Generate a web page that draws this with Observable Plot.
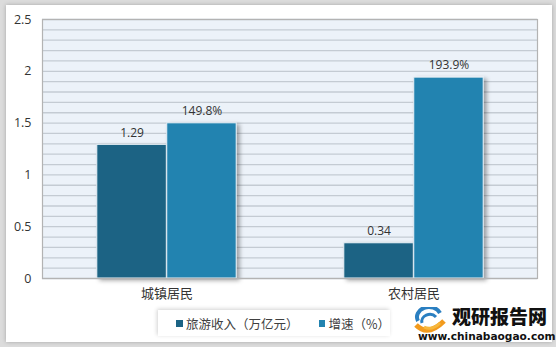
<!DOCTYPE html>
<html><head><meta charset="utf-8">
<script src="https://cdn.jsdelivr.net/npm/d3@7"></script>
<script src="https://cdn.jsdelivr.net/npm/@observablehq/plot@0.6"></script>
<style>
body{margin:0;width:556px;height:347px;background:#dcdcdc;position:relative;overflow:hidden;font-family:"Open Sans","Noto Sans CJK SC",sans-serif;}
#card{position:absolute;left:6px;top:5px;width:546px;height:337px;background:#fff;box-shadow:0 0 4px rgba(0,0,0,0.25);}
#chart{position:absolute;left:0;top:0;}
#legend{position:absolute;left:158px;top:310px;width:232px;height:26px;background:#fff;box-shadow:-1px -1px 4px rgba(0,0,0,0.18);font-size:12.5px;color:#404040;font-family:"Noto Sans CJK SC",sans-serif;display:flex;align-items:center;white-space:nowrap;}
.sw{display:inline-block;width:7px;height:7px;margin-right:3px;}
#logo{position:absolute;left:414px;top:303px;width:142px;height:42px;white-space:nowrap;}
#logo .t{position:absolute;left:38px;top:1px;font-family:"Noto Sans CJK SC",sans-serif;font-weight:900;font-size:19px;letter-spacing:0px;color:#111;line-height:24px;white-space:nowrap;}
#logo .u{position:absolute;left:4px;top:27px;font-family:"DejaVu Sans",sans-serif;font-weight:bold;font-size:10.6px;color:#111;line-height:12px;white-space:nowrap;}
</style></head>
<body>
<div id="card"></div>
<div id="chart"></div>
<div id="legend">
  <span style="margin-left:18px" class="sw" id="sw1"></span><span>旅游收入（万亿元）</span>
  <span style="margin-left:20px" class="sw" id="sw2"></span><span>增速（%）</span>
</div>
<div id="logo">
  <svg width="36" height="28" style="position:absolute;left:0;top:4px">
    <path d="M4,14 A12,10 0 0 1 26,6" stroke="#2a7fc1" stroke-width="4" fill="none"/>
    <path d="M8,16 A8,7 0 0 1 22,10" stroke="#2a7fc1" stroke-width="3" fill="none"/>
    <path d="M2,18 Q14,30 30,14" stroke="#f29a1d" stroke-width="5" fill="none"/>
    <path d="M10,20 Q18,24 26,16" stroke="#f6b73c" stroke-width="3" fill="none"/>
  </svg>
  <div class="t">观研报告网</div>
  <div class="u">www.chinabaogao.com</div>
</div>
<script>
const categories = ["城镇居民", "农村居民"];
const series = ["旅游收入（万亿元）", "增速（%）"];
const revenue = [1.29, 0.34];        // 万亿元
const growth = [149.8, 193.9];       // %
const yTickValues = [0, 0.5, 1, 1.5, 2, 2.5];
const colors = ["#1b6384", "#2283b0"];

document.getElementById("sw1").style.background = colors[0];
document.getElementById("sw2").style.background = colors[1];

const revData = categories.map((c, i) => ({cat: c, value: revenue[i], label: String(revenue[i])}));
const growthData = categories.map((c, i) => ({cat: c, value: growth[i] / 100, label: growth[i].toFixed(1) + "%"}));
const grid = d3.range(0, 26).map(i => i / 10);

const W = 556, ML = 42, MR = 19;
const B = (W - ML - MR) / categories.length;   // band width
const outer = B * 0.2174;
const bw = B * 0.2828;
const shift = B / 2 - outer - bw / 2;

const font = "'Open Sans','Noto Sans CJK SC',sans-serif";
const plot = Plot.plot({
  width: W, height: 308,
  marginLeft: ML, marginRight: MR, marginTop: 19, marginBottom: 30,
  style: {fontFamily: font, fontSize: "12px", color: "#333", background: "transparent"},
  x: {type: "band", domain: categories, padding: 0, label: null},
  y: {domain: [0, 2.5], label: null},
  marks: [
    Plot.frame({fill: "#ecf2f9", stroke: null}),
    Plot.ruleY(grid, {stroke: "#c4cbd3", strokeWidth: 1.3}),
    Plot.barY(revData, {x: "cat", y: "value", fill: colors[0], insetLeft: outer, insetRight: B - outer - bw, stroke: "#e8f0f6", strokeWidth: 1}),
    Plot.barY(growthData, {x: "cat", y: "value", fill: colors[1], insetLeft: B / 2, insetRight: outer, stroke: "#e8f0f6", strokeWidth: 1}),
    Plot.text(revData, {x: "cat", y: "value", text: "label", dx: -shift, dy: -12, fill: "#333", fontSize: 12}),
    Plot.text(growthData, {x: "cat", y: "value", text: "label", dx: shift, dy: -12, fill: "#333", fontSize: 12}),
    Plot.frame({stroke: "#b3b3b3", strokeWidth: 1.2}),
    Plot.axisY({ticks: yTickValues, tickSize: 0, tickPadding: 11, tickFormat: d => String(d), fontSize: 12.5, label: null}),
    Plot.axisX({tickSize: 0, tickPadding: 10, fontSize: 13, label: null, fill: "#333", fontFamily: "'Noto Sans CJK SC',sans-serif"})
  ]
});

// drop shadow for bars
const svgNS = "http://www.w3.org/2000/svg";
const defs = document.createElementNS(svgNS, "defs");
defs.innerHTML = '<filter id="bs" x="-20%" y="-20%" width="150%" height="150%"><feDropShadow dx="3" dy="2" stdDeviation="2" flood-color="#000" flood-opacity="0.35"/></filter>';
plot.insertBefore(defs, plot.firstChild);
plot.querySelectorAll('g[aria-label="bar"]').forEach(g => g.setAttribute("filter", "url(#bs)"));

document.getElementById("chart").appendChild(plot);
</script>
</body></html>
